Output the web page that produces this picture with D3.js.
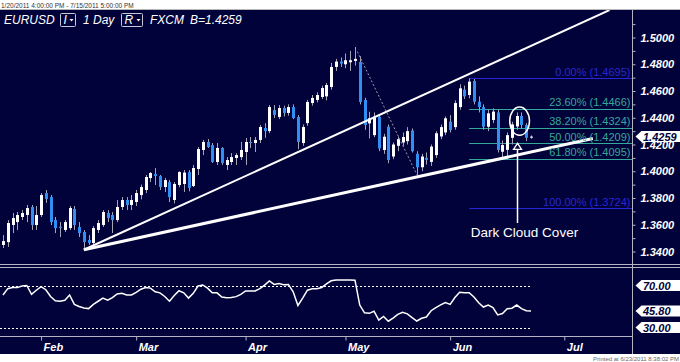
<!DOCTYPE html>
<html>
<head>
<meta charset="utf-8">
<script src="https://cdn.jsdelivr.net/npm/d3@7"></script>
<style>
  body { margin: 0; background: #fff; }
  svg { display: block; }
  text { font-family: "Liberation Sans", Arial, sans-serif; }
</style>
</head>
<body>
<div id="chart"></div>
<script>
// EURUSD daily candles, 1/20/2011 .. 6/24/2011
const openP = [1.3449,1.3470,1.3598,1.3620,1.3658,1.3673,1.3733,1.3598,1.3673,1.3837,
  1.3807,1.3635,1.3585,1.3561,1.3575,1.3718,1.3583,1.3546,1.3486,1.3464,
  1.3561,1.3598,1.3688,1.3673,1.3635,1.3733,1.3785,1.3748,1.3770,1.3822,
  1.3860,1.3949,1.3979,1.3964,1.3882,1.3919,1.3785,1.3897,1.3905,1.3994,
  1.3890,1.4017,1.4159,1.4219,1.4196,1.4069,1.4174,1.4047,1.4069,1.4099,
  1.4106,1.4144,1.4219,1.4211,1.4234,1.4323,1.4300,1.4458,1.4406,1.4473,
  1.4436,1.4480,1.4406,1.4211,1.4360,1.4510,1.4533,1.4555,1.4560,1.4630,
  1.4780,1.4820,1.4800,1.4815,1.4825,1.4817,1.4533,1.4358,1.4270,1.4408,
  1.4159,1.4333,1.4110,1.4190,1.4215,1.4225,1.4305,1.4130,1.4030,1.4100,
  1.4070,1.4121,1.4260,1.4290,1.4371,1.4330,1.4480,1.4610,1.4570,1.4675,
  1.4520,1.4480,1.4333,1.4383,1.4440,1.4146,1.4160,1.4250,1.4335,1.4413,
  1.4346,1.4252];
const highP = [1.3523,1.3635,1.3688,1.3695,1.3710,1.3748,1.3748,1.3740,1.3837,1.3860,
  1.3822,1.3658,1.3620,1.3635,1.3740,1.3740,1.3620,1.3561,1.3523,1.3590,
  1.3635,1.3710,1.3710,1.3695,1.3785,1.3807,1.3807,1.3822,1.3860,1.3900,
  1.3972,1.3994,1.4024,1.3972,1.3950,1.3935,1.3920,1.4000,1.4010,1.4009,
  1.4047,1.4181,1.4234,1.4241,1.4211,1.4211,1.4181,1.4106,1.4136,1.4136,
  1.4219,1.4249,1.4256,1.4256,1.4346,1.4360,1.4495,1.4495,1.4495,1.4490,
  1.4500,1.4500,1.4420,1.4350,1.4533,1.4570,1.4590,1.4640,1.4660,1.4810,
  1.4840,1.4850,1.4880,1.4900,1.4929,1.4860,1.4550,1.4445,1.4440,1.4420,
  1.4280,1.4350,1.4215,1.4260,1.4290,1.4330,1.4320,1.4150,1.4130,1.4140,
  1.4200,1.4300,1.4350,1.4410,1.4420,1.4530,1.4650,1.4640,1.4695,1.4690,
  1.4560,1.4500,1.4460,1.4470,1.4460,1.4230,1.4290,1.4370,1.4440,1.4440,
  1.4360,1.4268];
const lowP = [1.3426,1.3434,1.3538,1.3561,1.3635,1.3620,1.3561,1.3561,1.3658,1.3763,
  1.3598,1.3538,1.3508,1.3546,1.3561,1.3561,1.3508,1.3411,1.3449,1.3449,
  1.3538,1.3583,1.3620,1.3538,1.3620,1.3710,1.3710,1.3710,1.3740,1.3790,
  1.3837,1.3919,1.3897,1.3860,1.3845,1.3770,1.3760,1.3880,1.3845,1.3850,
  1.3882,1.3972,1.4121,1.4174,1.4062,1.4047,1.4047,1.4009,1.4047,1.4047,
  1.4084,1.4047,1.4174,1.4144,1.4211,1.4250,1.4285,1.4398,1.4390,1.4410,
  1.4415,1.4390,1.4165,1.4190,1.4340,1.4490,1.4515,1.4540,1.4530,1.4610,
  1.4750,1.4780,1.4770,1.4750,1.4790,1.4500,1.4310,1.4246,1.4255,1.4150,
  1.4130,1.4060,1.4090,1.4150,1.4190,1.4200,1.4140,1.3970,1.4000,1.4050,
  1.4040,1.4100,1.4240,1.4270,1.4290,1.4310,1.4460,1.4540,1.4545,1.4500,
  1.4440,1.4310,1.4300,1.4360,1.4140,1.4100,1.4110,1.4200,1.4310,1.4320,
  1.4225,1.4243];
const closeP = [1.3478,1.3613,1.3650,1.3673,1.3688,1.3725,1.3598,1.3673,1.3822,1.3792,
  1.3620,1.3575,1.3575,1.3620,1.3725,1.3598,1.3538,1.3471,1.3464,1.3575,
  1.3613,1.3695,1.3650,1.3635,1.3733,1.3785,1.3748,1.3785,1.3837,1.3882,
  1.3957,1.3987,1.3964,1.3882,1.3934,1.3807,1.3905,1.3994,1.3990,1.3875,
  1.4024,1.4166,1.4219,1.4181,1.4069,1.4174,1.4062,1.4084,1.4106,1.4121,
  1.4159,1.4219,1.4211,1.4234,1.4331,1.4300,1.4480,1.4421,1.4473,1.4436,
  1.4480,1.4398,1.4219,1.4331,1.4518,1.4548,1.4570,1.4622,1.4645,1.4780,
  1.4820,1.4805,1.4830,1.4830,1.4840,1.4518,1.4346,1.4396,1.4408,1.4171,
  1.4258,1.4084,1.4200,1.4240,1.4256,1.4300,1.4150,1.4030,1.4110,1.4085,
  1.4184,1.4284,1.4330,1.4396,1.4308,1.4510,1.4620,1.4560,1.4670,1.4520,
  1.4480,1.4333,1.4433,1.4446,1.4159,1.4196,1.4270,1.4350,1.4413,1.4346,
  1.4250,1.4259];

// RSI, one value per candle
const rsiValues = [61,67,68,68,69.5,70,61.5,65.5,69,66,
  59.5,55.5,55,56,61,52,50,48.5,48,52,
  55,58,56,58.5,62,62.5,61,61,63.5,66.5,
  68,67.5,64,63,59.5,55,60.5,65,63,58,
  62.5,69.5,70.5,67.5,63,63,59,58.4,58.5,59.4,
  61.6,64.8,64.8,64.8,67,70.3,74.3,71,72,70.8,
  71,64,51,58,65.5,66.8,67,68,71.5,74.5,
  75.2,75.2,75.2,75.2,75,51.4,44,43.5,45.5,37,
  40.5,36,39,42.5,44.5,43,39.5,36.2,38.8,40,
  46,49,51.5,53.8,52,58.5,63.5,63,63.2,59,
  53.5,49.5,51.4,49,42,43.3,47.8,48.4,51.4,48,
  45.9,45.8];
const rsiLevels = [70, 30];
const rsiLast = 45.80;

const monthLabels = ["Feb", "Mar", "Apr", "May", "Jun", "Jul"];
const monthIdx = [8, 28, 51, 72, 94, 118];

const priceTicks = [1.34, 1.36, 1.38, 1.40, 1.42, 1.44, 1.46, 1.48, 1.50];
const priceMinor = [1.33, 1.35, 1.37, 1.39, 1.41, 1.43, 1.45, 1.47, 1.49, 1.51];
const lastPrice = 1.4259;

const fibLabels = ["0.00%", "23.60%", "38.20%", "50.00%", "61.80%", "100.00%"];
const fibPrices = [1.4695, 1.4466, 1.4324, 1.4209, 1.4095, 1.3724];
const fibStartIdx = 98;

// trendlines as [candle index, price]
const trendUpper = [[17, 1.3413], [127.5, 1.5205]];
const trendLower = [[17, 1.3413], [124, 1.4245]];
const dashLine = [[74.5, 1.4894], [87, 1.3975]];

const noteText = "Dark Cloud Cover";
const notePair = [108, 109];
const noteTip = 1.4209;
const noteLabel = 1.3545;

const W = 680, H = 362;
const navy = "#02023a";
const axisX = 632.5;

const svg = d3.select("#chart").append("svg")
  .attr("width", W).attr("height", H);

svg.append("rect").attr("width", W).attr("height", H).attr("fill", "#fff");
svg.append("rect").attr("x", 0).attr("y", 10).attr("width", W).attr("height", 344).attr("fill", navy);
svg.append("line").attr("x1", 0).attr("x2", W).attr("y1", 9.5).attr("y2", 9.5)
  .attr("stroke", "#b8b8b8");

svg.append("text").attr("x", 1).attr("y", 7.5)
  .style("font-size", "6.5px").attr("fill", "#333")
  .text("1/20/2011 4:00:00 PM - 7/15/2011 5:00:00 PM");
svg.append("text").attr("x", 679).attr("y", 360.5).attr("text-anchor", "end")
  .style("font-size", "6px").attr("fill", "#666")
  .text("Printed at 6/23/2011 8:38:02 PM");

const x = d3.scaleLinear().domain([0, closeP.length - 1]).range([3, 531]);
const y = d3.scaleLinear().domain([1.34, 1.50]).range([251.5, 37.5]);
const yR = d3.scaleLinear().domain([30, 70]).range([327.5, 285.5]);

const defs = svg.append("defs");
defs.append("clipPath").attr("id", "mainClip").append("rect")
  .attr("x", 0).attr("y", 10).attr("width", axisX).attr("height", 254);
defs.append("clipPath").attr("id", "rsiClip").append("rect")
  .attr("x", 0).attr("y", 268).attr("width", axisX).attr("height", 68);

const main = svg.append("g").attr("clip-path", "url(#mainClip)");

// fib lines
const teal = "#35a89c", fibBlue = "#2626d6";
const fibColor = i => (i === 0 || i === fibLabels.length - 1) ? fibBlue : teal;
main.selectAll(".fib").data(fibPrices).join("line")
  .attr("x1", x(fibStartIdx)).attr("x2", axisX)
  .attr("y1", d => Math.round(y(d)) + 0.5).attr("y2", d => Math.round(y(d)) + 0.5)
  .attr("stroke", (d, i) => fibColor(i)).attr("stroke-width", 1.2);

// candles
const candles = d3.range(closeP.length).map(i => ({
  i, o: openP[i], h: highP[i], l: lowP[i], c: closeP[i]
}));
const cg = main.selectAll(".candle").data(candles).join("g");
cg.append("line")
  .attr("x1", d => Math.round(x(d.i)) + 0.5).attr("x2", d => Math.round(x(d.i)) + 0.5)
  .attr("y1", d => y(d.h)).attr("y2", d => y(d.l))
  .attr("stroke", "#a4a4b4").attr("stroke-width", 1);
cg.append("rect")
  .attr("x", d => Math.round(x(d.i)) - 1)
  .attr("width", 3)
  .attr("y", d => y(Math.max(d.o, d.c)))
  .attr("height", d => Math.max(1, Math.abs(y(d.o) - y(d.c))))
  .attr("fill", d => d.c >= d.o ? "#ffffff" : "#2f8ff2");

// fib labels
svg.selectAll(".fibLabel").data(fibPrices).join("text")
  .attr("x", axisX - 2).attr("y", d => y(d) - 2.5)
  .attr("text-anchor", "end")
  .style("font-size", "11px")
  .attr("fill", (d, i) => fibColor(i))
  .text((d, i) => `${fibLabels[i]} (${d3.format(".4f")(d)})`);

// trendlines
const line = d3.line().x(d => x(d[0])).y(d => y(d[1]));
main.append("path").attr("d", line(trendUpper)).attr("fill", "none")
  .attr("stroke", "#fff").attr("stroke-width", 2);
main.append("path").attr("d", line(trendLower)).attr("fill", "none")
  .attr("stroke", "#fff").attr("stroke-width", 3);
main.append("path").attr("d", line(dashLine)).attr("fill", "none")
  .attr("stroke", "#9a9ab0").attr("stroke-width", 1).attr("stroke-dasharray", "2,2");

// dark cloud cover note
const eHi = d3.max(notePair, i => highP[i]), eLo = d3.min(notePair, i => lowP[i]);
main.append("ellipse")
  .attr("cx", (x(notePair[0]) + x(notePair[1])) / 2 + 0.5)
  .attr("cy", (y(eHi) + y(eLo)) / 2)
  .attr("rx", (x(notePair[1]) - x(notePair[0])) / 2 + 7.5)
  .attr("ry", (y(eLo) - y(eHi)) / 2 + 5.5)
  .attr("fill", "none").attr("stroke", "#fff").attr("stroke-width", 1.5);
const ax = Math.round(x(notePair[0])) + 0.5;
const tipY = y(noteTip);
main.append("line").attr("x1", ax).attr("x2", ax)
  .attr("y1", tipY + 5).attr("y2", y(noteLabel) - 9)
  .attr("stroke", "#fff").attr("stroke-width", 1.5);
main.append("path")
  .attr("d", `M${ax},${tipY} L${ax - 4},${tipY + 6} L${ax + 4},${tipY + 6} Z`)
  .attr("fill", navy).attr("stroke", "#fff").attr("stroke-width", 1.3);
svg.append("text").attr("x", ax + 7).attr("y", y(noteLabel) + 5)
  .attr("text-anchor", "middle").style("font-size", "13.5px")
  .attr("fill", "#fff").text(noteText);

// separator between panels
[264.5, 267.5].forEach(v => svg.append("line").attr("x1", 0).attr("x2", W)
  .attr("y1", v).attr("y2", v).attr("stroke", "#b4b4c4").attr("stroke-width", 1));

// RSI panel
const rsi = svg.append("g").attr("clip-path", "url(#rsiClip)");
rsi.selectAll(".lvl").data(rsiLevels).join("line")
  .attr("x1", 0).attr("x2", x(rsiValues.length - 1))
  .attr("y1", d => Math.round(yR(d)) + 0.5).attr("y2", d => Math.round(yR(d)) + 0.5)
  .attr("stroke", "#fff").attr("stroke-width", 1).attr("stroke-dasharray", "2,2");
rsi.append("path")
  .attr("d", d3.line().x((d, i) => x(i)).y(d => yR(d))(rsiValues))
  .attr("fill", "none").attr("stroke", "#fff").attr("stroke-width", 1.5);

// bottom axis
svg.append("line").attr("x1", 0).attr("x2", axisX).attr("y1", 336.5).attr("y2", 336.5)
  .attr("stroke", "#b4b4c4");
const xAxis = svg.append("g").attr("transform", "translate(0,336.5)")
  .call(d3.axisBottom(x).tickValues(monthIdx).tickSize(4).tickPadding(3)
    .tickFormat((d, i) => monthLabels[i]));
xAxis.select(".domain").remove();
xAxis.selectAll("line").attr("stroke", "#b4b4c4");
xAxis.selectAll("text").attr("text-anchor", "start").attr("dx", "2")
  .attr("fill", "#fff").style("font-size", "11px")
  .style("font-weight", "bold").style("font-style", "italic");

// right price axis
svg.append("line").attr("x1", axisX).attr("x2", axisX).attr("y1", 10).attr("y2", 354)
  .attr("stroke", "#b4b4c4");
const yAxis = svg.append("g").attr("transform", `translate(${axisX},0)`)
  .call(d3.axisRight(y).tickValues(priceTicks).tickSize(3).tickPadding(5)
    .tickFormat(d3.format(".4f")));
yAxis.select(".domain").remove();
yAxis.selectAll("line").attr("stroke", "#b4b4c4");
yAxis.selectAll("text").attr("fill", "#fff").style("font-size", "11px")
  .style("font-weight", "bold").style("font-style", "italic");
const yMinor = svg.append("g").attr("transform", `translate(${axisX},0)`)
  .call(d3.axisRight(y).tickValues(priceMinor.filter(v => y(v) > 12 && y(v) < 262))
    .tickSize(3).tickFormat(""));
yMinor.select(".domain").remove();
yMinor.selectAll("line").attr("stroke", "#b4b4c4");

// value tags
function tag(yc, label) {
  const x0 = 635.5;
  svg.append("path")
    .attr("d", `M${x0},${yc} L${x0 + 6},${yc - 5.5} L${W},${yc - 5.5} L${W},${yc + 5.5} L${x0 + 6},${yc + 5.5} Z`)
    .attr("fill", "#fff");
  svg.append("text").attr("x", 643).attr("y", yc + 4)
    .attr("fill", navy).style("font-size", "11px")
    .style("font-weight", "bold").style("font-style", "italic").text(label);
}
tag(y(lastPrice), d3.format(".4f")(lastPrice));
rsiLevels.forEach(v => tag(yR(v), d3.format(".2f")(v)));
tag(yR(rsiLast), d3.format(".2f")(rsiLast));

// header
const hdr = svg.append("g").style("font-size", "12px").style("font-style", "italic")
  .attr("fill", "#fff");
hdr.append("text").attr("x", 4).attr("y", 24).text("EURUSD");
hdr.append("text").attr("x", 83).attr("y", 24).text("1 Day");
hdr.append("text").attr("x", 150).attr("y", 24).text("FXCM");
hdr.append("text").attr("x", 190).attr("y", 24).text("B=" + d3.format(".4f")(lastPrice));
[{x: 60.5, w: 15, t: "I"}, {x: 121.5, w: 21, t: "R"}].forEach(b => {
  svg.append("rect").attr("x", b.x).attr("y", 13.5).attr("width", b.w).attr("height", 13)
    .attr("fill", "none").attr("stroke", "#c8c8d8").attr("rx", 1);
  hdr.append("text").attr("x", b.x + 3).attr("y", 24).text(b.t);
  const tx = b.x + b.w - 6;
  svg.append("path").attr("d", `M${tx},19 L${tx + 4},19 L${tx + 2},21.5 Z`).attr("fill", "#fff");
});
</script>
</body>
</html>
